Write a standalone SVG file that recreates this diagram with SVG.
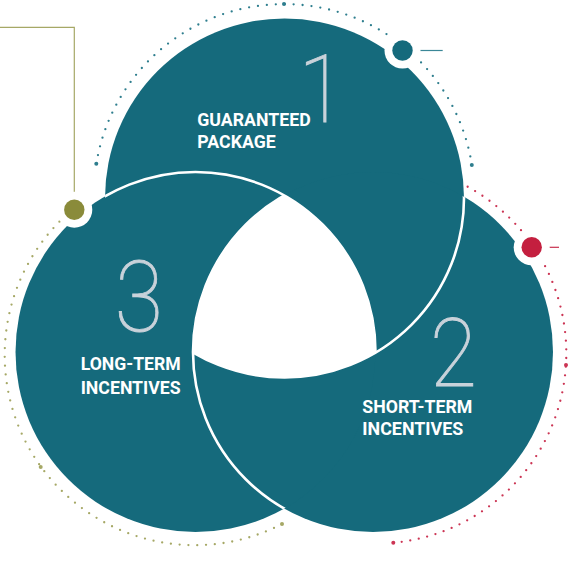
<svg xmlns="http://www.w3.org/2000/svg" width="580" height="561" viewBox="0 0 580 561">
  <style>
    .disc { fill: #156a7c; }
    .seam { fill: none; stroke: #ffffff; stroke-width: 2.6; }
    .ring { fill: none; stroke-width: 2.3; stroke-linecap: round; }
    .halo { fill: #ffffff; }
    .lbl { font-family: Roboto, "Liberation Sans", Arial, sans-serif; font-weight: 700; font-size: 19px; fill: #ffffff; }
    .num { font-family: Roboto, "Liberation Sans", Arial, sans-serif; font-weight: 100; fill: #c9d2da; stroke: #c9d2da; stroke-width: 0.9; text-anchor: middle; }
  </style>
  <defs>
    <clipPath id="clip1"><circle cx="284.5" cy="198" r="179.5"/></clipPath>
    <clipPath id="clip2"><circle cx="373" cy="352" r="180"/></clipPath>
    <clipPath id="clip3"><circle cx="195.5" cy="352" r="180"/></clipPath>
  </defs>

  <!-- dotted rings -->
  <g id="rings">
    <path class="ring" stroke="#2e7e8e" stroke-dasharray="0 8.957" d="M96.35 163.81 A190.1 190.1 0 0 1 471.85 165.02"/>
    <path class="ring" stroke="#cc3554" stroke-dasharray="0 8.655" d="M467.65 186.74 A190.1 190.1 0 0 1 393.30 542.73"/>
    <path class="ring" stroke="#a6a866" stroke-dasharray="0 8.80" d="M59.41 221.66 A190.1 190.1 0 0 0 281.99 524.03"/>
    <g fill="#2e7e8e">
      <circle cx="96.3" cy="163.8" r="2"/>
      <circle cx="284" cy="4.1" r="2"/>
      <circle cx="471.8" cy="165" r="2"/>
    </g>
    <g fill="#cc3554">
      <circle cx="566" cy="365" r="2"/>
      <circle cx="393.3" cy="542.7" r="2"/>
    </g>
    <g fill="#a6a866">
      <circle cx="40.7" cy="467" r="2"/>
      <circle cx="282" cy="524" r="2"/>
    </g>
  </g>

  <!-- circles -->
  <g id="circle-1"><circle class="disc" cx="284.5" cy="198" r="179.5"/></g>
  <g id="circle-2"><circle class="disc" cx="373" cy="352" r="180"/></g>
  <g id="circle-3"><circle class="disc" cx="195.5" cy="352" r="180"/></g>

  <!-- seams where circles overlap -->
  <g id="seams">
    <g clip-path="url(#clip1)"><circle class="seam" cx="195.5" cy="352" r="180"/></g>
    <g clip-path="url(#clip2)"><circle class="seam" cx="284.5" cy="198" r="179.5"/></g>
    <g clip-path="url(#clip3)"><circle class="seam" cx="373" cy="352" r="180"/></g>
  </g>

  <!-- central white region -->
  <g id="center">
    <g clip-path="url(#clip3)">
      <g clip-path="url(#clip2)">
        <circle cx="284.5" cy="198" r="179.5" fill="#ffffff"/>
      </g>
    </g>
  </g>

  <!-- connectors (leader lines) -->
  <g id="connectors" fill="none" stroke-width="1.2">
    <path d="M412 50.5 H442.7" stroke="#3a8797"/>
    <path d="M541 247.3 H559" stroke="#c8304e"/>
    <path d="M74.3 200 V27.3 H0" stroke="#a6a866"/>
  </g>

  <!-- markers -->
  <g id="marker-1">
    <circle class="halo" cx="402.5" cy="50.5" r="18"/>
    <circle cx="402.5" cy="50.5" r="10.2" fill="#156a7c"/>
  </g>
  <g id="marker-2">
    <circle class="halo" cx="531.7" cy="247.3" r="18"/>
    <circle cx="531.7" cy="247.3" r="10.2" fill="#c41f3f"/>
  </g>
  <g id="marker-3">
    <circle class="halo" cx="74.3" cy="209.7" r="18"/>
    <circle cx="74.3" cy="209.7" r="10.2" fill="#8a8b3a"/>
  </g>

  <!-- labels -->
  <g id="label-1">
    <text class="num" transform="translate(322 122) scale(0.9 1)" font-size="95">1</text>
    <text class="lbl" x="197.3" y="125.7" textLength="113.4" lengthAdjust="spacingAndGlyphs">GUARANTEED</text>
    <text class="lbl" x="197.3" y="148.3" textLength="78.4" lengthAdjust="spacingAndGlyphs">PACKAGE</text>
  </g>
  <g id="label-2">
    <text class="num" transform="translate(453.5 385.7) scale(0.9 1)" font-size="95">2</text>
    <text class="lbl" x="362.3" y="413.3" textLength="110" lengthAdjust="spacingAndGlyphs">SHORT-TERM</text>
    <text class="lbl" x="362.3" y="435.3" textLength="101" lengthAdjust="spacingAndGlyphs">INCENTIVES</text>
  </g>
  <g id="label-3">
    <text class="num" transform="translate(139 330.5) scale(0.9 1)" font-size="98">3</text>
    <text class="lbl" x="80.7" y="370" textLength="100" lengthAdjust="spacingAndGlyphs">LONG-TERM</text>
    <text class="lbl" x="80.7" y="394" textLength="100" lengthAdjust="spacingAndGlyphs">INCENTIVES</text>
  </g>
</svg>
